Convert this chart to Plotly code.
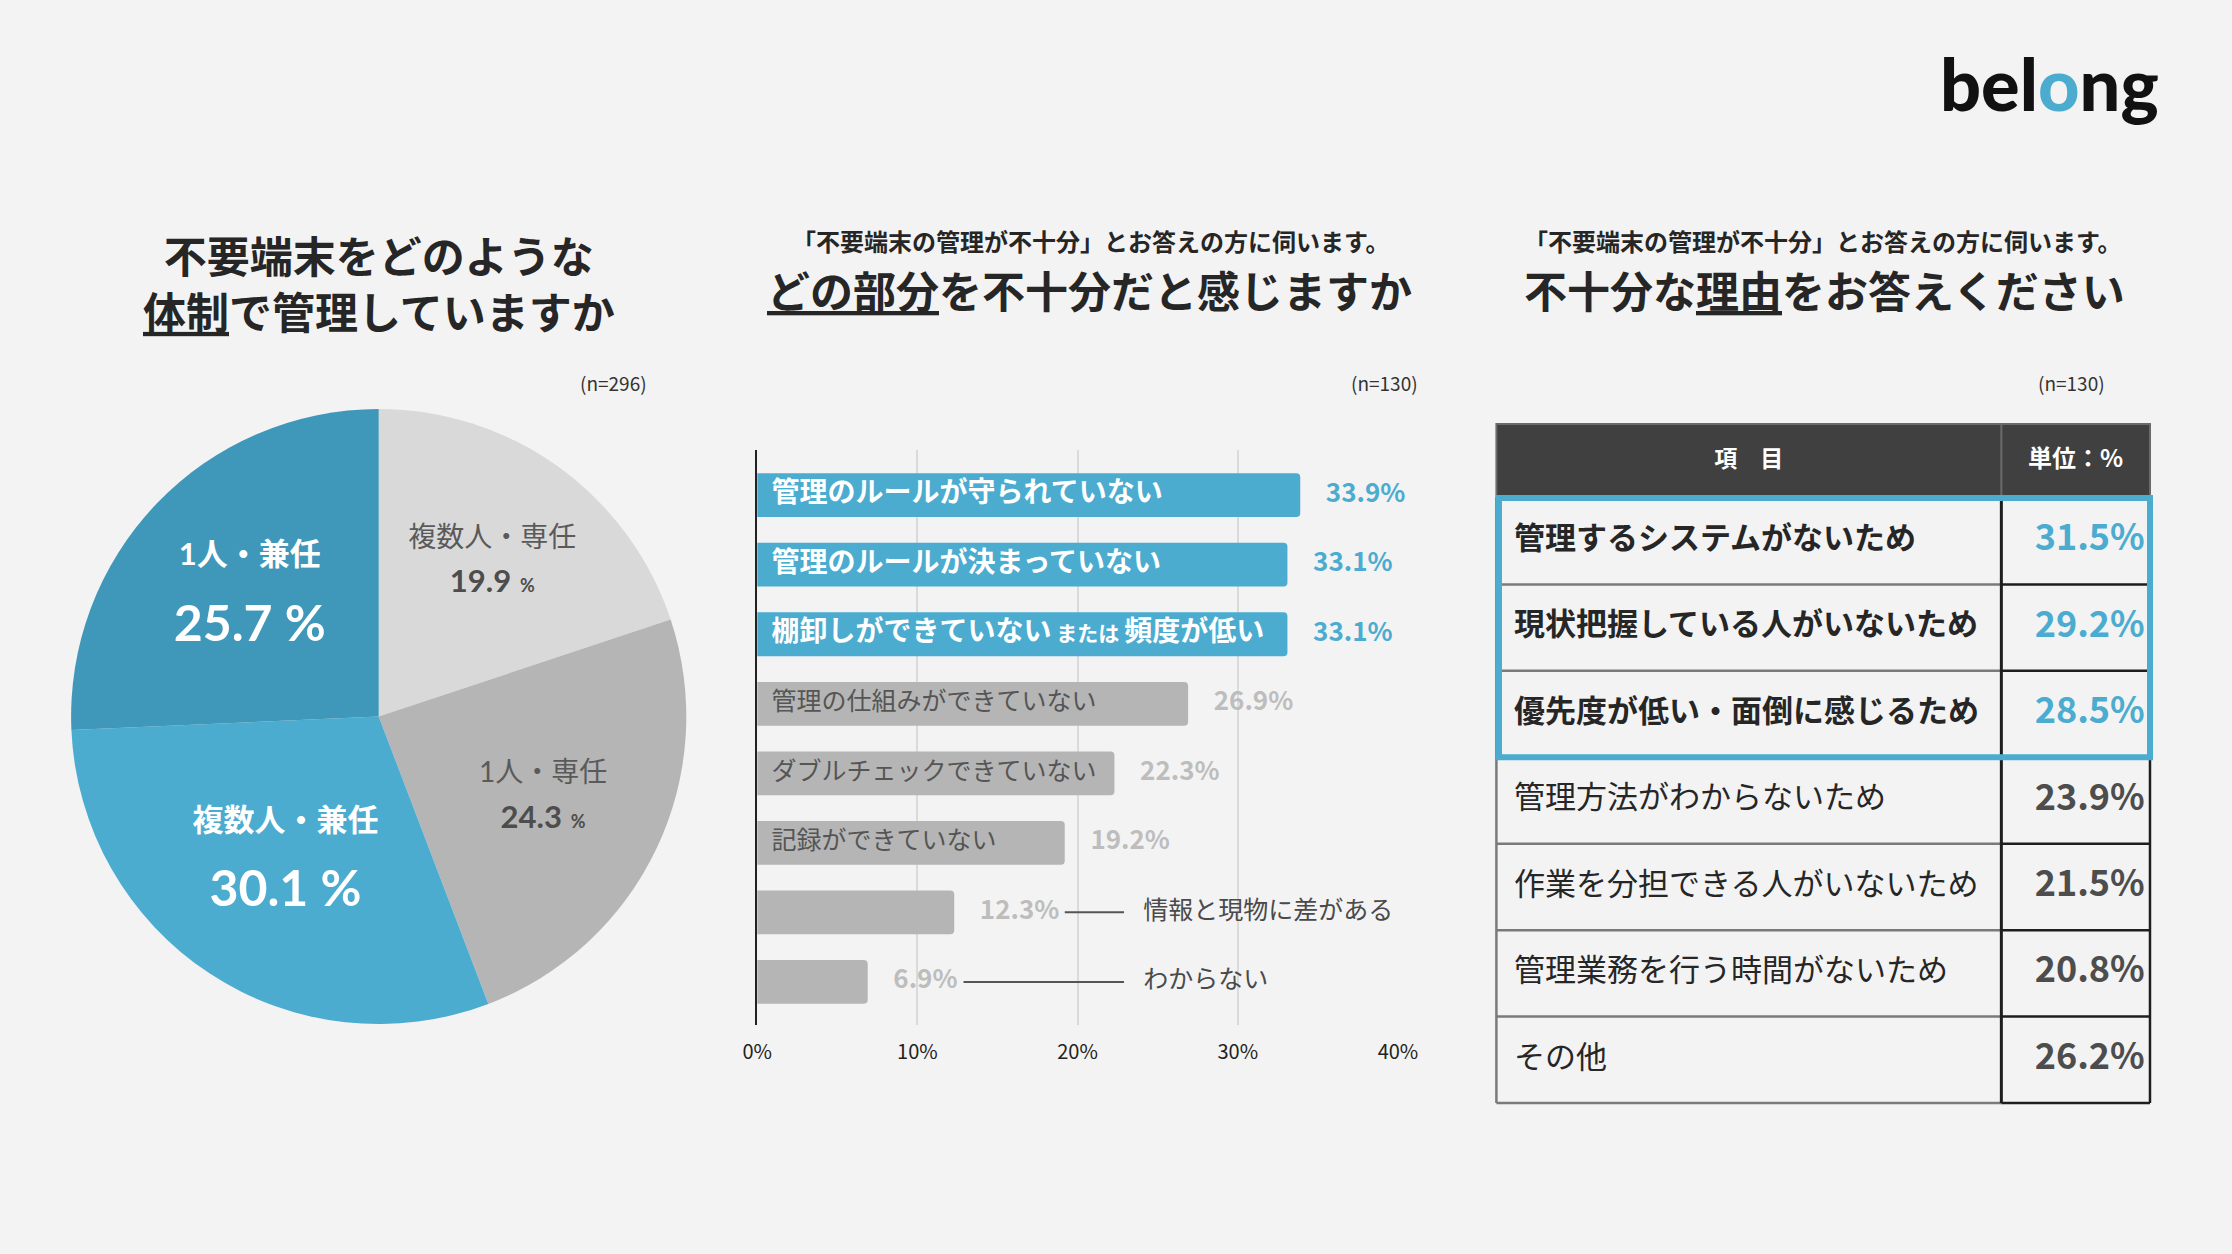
import plotly.graph_objects as go

W, H = 2232, 1254
BG = "#F3F3F3"
BLUE = "#4BACD0"
DARK_BLUE = "#3F97BA"
LIGHT_GRAY = "#D9D9D9"
MID_GRAY = "#B5B5B5"
TEXT = "#262626"
JP = "Noto Sans CJK JP"
LATO = "Lato, Noto Sans CJK JP"

# ---------------- data ----------------
pie_labels = ["複数人・専任", "1人・専任", "複数人・兼任", "1人・兼任"]
pie_values = [19.9, 24.3, 30.1, 25.7]
pie_colors = [LIGHT_GRAY, MID_GRAY, BLUE, DARK_BLUE]
pie_emphasis = [False, False, True, True]

bar_labels = [
    "管理のルールが守られていない",
    "管理のルールが決まっていない",
    "棚卸しができていない または 頻度が低い",
    "管理の仕組みができていない",
    "ダブルチェックできていない",
    "記録ができていない",
    "情報と現物に差がある",
    "わからない",
]
bar_values = [33.9, 33.1, 33.1, 26.9, 22.3, 19.2, 12.3, 6.9]
bar_highlight = [True, True, True, False, False, False, False, False]
bar_callout = [False, False, False, False, False, False, True, True]
x_ticks = [0, 10, 20, 30, 40]

table_header = ["項　目", "単位：%"]
table_items = [
    "管理するシステムがないため",
    "現状把握している人がいないため",
    "優先度が低い・面倒に感じるため",
    "管理方法がわからないため",
    "作業を分担できる人がいないため",
    "管理業務を行う時間がないため",
    "その他",
]
table_values = [31.5, 29.2, 28.5, 23.9, 21.5, 20.8, 26.2]
table_highlight = [True, True, True, False, False, False, False]


def px(x):
    return x / W


def py(y):
    return 1 - y / H


fig = go.Figure()

# ---------------- pie ----------------
pie_text, pie_sizes, pie_fcolors = [], [], []
for lab, v, emph in zip(pie_labels, pie_values, pie_emphasis):
    if emph:
        pie_text.append(
            f"<b><span style='font-size:31px'>{lab}</span><br>"
            f"<span style='font-size:50px'>{v:.1f} %</span></b>"
        )
        pie_sizes.append(58)
        pie_fcolors.append("white")
    else:
        pie_text.append(
            f"<span style='font-size:28px'>{lab}</span><br>"
            f"<b><span style='font-size:31px;color:#4D4D4D'>{v:.1f}</span>"
            f"<span style='font-size:18px;color:#4D4D4D'>  %</span></b>"
        )
        pie_sizes.append(35)
        pie_fcolors.append("#5A5A5A")

fig.add_trace(go.Pie(
    labels=pie_labels, values=pie_values, text=pie_text, textinfo="text",
    textposition="inside", insidetextorientation="horizontal",
    sort=False, direction="clockwise", rotation=0,
    marker=dict(colors=pie_colors, line=dict(width=0)),
    insidetextfont=dict(family=LATO, size=pie_sizes, color=pie_fcolors),
    domain=dict(x=[px(57), px(682)], y=[py(1029), py(404)]),
    showlegend=False, hoverinfo="skip",
))

# ---------------- bars ----------------
bar_colors = [BLUE if h else MID_GRAY for h in bar_highlight]
fig.add_trace(go.Bar(
    y=bar_labels, x=bar_values, orientation="h", width=0.63,
    marker=dict(color=bar_colors, line=dict(width=0), cornerradius=4),
    xaxis="x", yaxis="y", showlegend=False, hoverinfo="skip",
))

LABEL_PAD = 0.9
in_y, in_text, in_size, in_color = [], [], [], []
for lab, hl, co in zip(bar_labels, bar_highlight, bar_callout):
    if co:
        continue
    t = lab.replace(" または ", "<span style='font-size:21px'> または </span>")
    in_y.append(lab)
    in_text.append(f"<b>{t}</b>" if hl else t)
    in_size.append(28 if hl else 25)
    in_color.append("white" if hl else "#555555")
fig.add_trace(go.Scatter(
    x=[LABEL_PAD] * len(in_y), y=in_y, text=in_text, mode="text",
    textposition="middle right",
    textfont=dict(family=JP, size=in_size, color=in_color),
    xaxis="x", yaxis="y", showlegend=False, hoverinfo="skip", cliponaxis=False,
))

VALUE_GAP = 1.6
fig.add_trace(go.Scatter(
    x=[v + VALUE_GAP for v in bar_values], y=bar_labels,
    text=[f"<b>{v:.1f}%</b>" for v in bar_values], mode="text",
    textposition="middle right",
    textfont=dict(family=JP, size=26,
                  color=[BLUE if h else "#BDBDBD" for h in bar_highlight]),
    xaxis="x", yaxis="y", showlegend=False, hoverinfo="skip", cliponaxis=False,
))

CALLOUT_LINE_END = 22.9
CALLOUT_TEXT_X = 24.1
lx, ly, cy = [], [], []
for lab, v, co in zip(bar_labels, bar_values, bar_callout):
    if not co:
        continue
    start = v + VALUE_GAP + 0.92 * len(f"{v:.1f}%") + 0.7
    lx += [start, CALLOUT_LINE_END, None]
    ly += [lab, lab, None]
    cy.append(lab)
fig.add_trace(go.Scatter(
    x=lx, y=ly, mode="lines", line=dict(color="#555555", width=2),
    xaxis="x", yaxis="y", showlegend=False, hoverinfo="skip", cliponaxis=False,
))
fig.add_trace(go.Scatter(
    x=[CALLOUT_TEXT_X] * len(cy), y=cy, text=cy, mode="text",
    textposition="middle right",
    textfont=dict(family=JP, size=25, color="#4A4A4A"),
    xaxis="x", yaxis="y", showlegend=False, hoverinfo="skip", cliponaxis=False,
))

# ---------------- table ----------------
T_LEFT, T_RIGHT, T_TOP, T_BOTTOM = 1505, 2169, 424, 1103
HEADER_PX = 74
DIV = (2018 - T_LEFT) / (T_RIGHT - T_LEFT)
n_rows = len(table_items)
row_px = (T_BOTTOM - T_TOP - HEADER_PX) / n_rows
hdr = HEADER_PX / row_px
PAD = 10
tw = T_RIGHT - T_LEFT

fig.add_trace(go.Scatter(
    x=[DIV / 2, (DIV + 1) / 2], y=[-hdr / 2, -hdr / 2],
    text=[f"<b>{t}</b>" for t in table_header], mode="text",
    textposition="middle center",
    textfont=dict(family=JP, size=[23, 24], color="white"),
    xaxis="x3", yaxis="y3", showlegend=False, hoverinfo="skip", cliponaxis=False,
))
fig.add_trace(go.Scatter(
    x=[0.027] * n_rows, y=[i + 0.5 for i in range(n_rows)],
    text=[f"<b>{t}</b>" if h else t for t, h in zip(table_items, table_highlight)],
    mode="text", textposition="middle right",
    textfont=dict(family=JP, size=31, color=TEXT),
    xaxis="x3", yaxis="y3", showlegend=False, hoverinfo="skip", cliponaxis=False,
))
fig.add_trace(go.Scatter(
    x=[0.992] * n_rows, y=[i + 0.5 for i in range(n_rows)],
    text=[f"<b>{v:.1f}%</b>" for v in table_values],
    mode="text", textposition="middle left",
    textfont=dict(family=JP, size=36,
                  color=[BLUE if h else "#4D4D4D" for h in table_highlight]),
    xaxis="x3", yaxis="y3", showlegend=False, hoverinfo="skip", cliponaxis=False,
))

shapes = []
# header
shapes.append(dict(type="rect", xref="x3", yref="y3", x0=0, x1=1, y0=-hdr, y1=0,
                   fillcolor="#404040", line=dict(color="#6A6A6A", width=2), layer="below"))
shapes.append(dict(type="line", xref="x3", yref="y3", x0=DIV, x1=DIV, y0=-hdr, y1=0,
                   line=dict(color="#6A6A6A", width=2)))
# row lines
for i in range(n_rows):
    shapes.append(dict(type="line", xref="x3", yref="y3", x0=0, x1=DIV, y0=i + 1, y1=i + 1,
                       line=dict(color="#7A7A7A", width=2.5)))
    shapes.append(dict(type="line", xref="x3", yref="y3", x0=DIV, x1=1, y0=i + 1, y1=i + 1,
                       line=dict(color="#1E1E1E", width=2.5)))
shapes.append(dict(type="line", xref="x3", yref="y3", x0=0, x1=0, y0=0, y1=n_rows,
                   line=dict(color="#7A7A7A", width=2.5)))
shapes.append(dict(type="line", xref="x3", yref="y3", x0=DIV, x1=DIV, y0=0, y1=n_rows,
                   line=dict(color="#1E1E1E", width=3)))
shapes.append(dict(type="line", xref="x3", yref="y3", x0=1, x1=1, y0=0, y1=n_rows,
                   line=dict(color="#1E1E1E", width=2.5)))
# highlight frame
n_hl = sum(table_highlight)
shapes.append(dict(type="rect", xref="x3", yref="y3", x0=0.004, x1=1.0, y0=0.0, y1=n_hl,
                   line=dict(color=BLUE, width=6), fillcolor="rgba(0,0,0,0)"))

# ---------------- annotations ----------------
ann = []


def add_text(text, x, y, size, color=TEXT, xanchor="center", family=JP, weight=None):
    f = dict(family=family, size=size, color=color)
    if weight:
        f["weight"] = weight
    ann.append(dict(text=text, x=px(x), y=py(y), xref="paper", yref="paper",
                    xanchor=xanchor, yanchor="middle", showarrow=False, align="center",
                    borderpad=0, font=f))


add_text("<b>不要端末をどのような<br><u>体制</u>で管理していますか</b>", 370, 282, 43)
add_text("<b>「不要端末の管理が不十分」とお答えの方に伺います。</b>", 1093, 240, 24)
add_text("<b><u>どの部分</u>を不十分だと感じますか</b>", 1092, 289, 43)
add_text("<b>「不要端末の管理が不十分」とお答えの方に伺います。</b>", 1837, 240, 24)
add_text("<b>不十分な<u>理由</u>をお答えください</b>", 1838, 289, 43)
add_text("(n=296)", 643, 382, 19, color="#333333", xanchor="right")
add_text("(n=130)", 1426, 382, 19, color="#333333", xanchor="right")
add_text("(n=130)", 2124, 382, 19, color="#333333", xanchor="right")
add_text(f"bel<span style='color:{BLUE}'>o</span>ng", 2179, 83, 72,
         color="#111111", xanchor="right", family="Lato", weight=900)

fig.update_layout(
    width=W, height=H, margin=dict(l=0, r=0, t=0, b=0),
    paper_bgcolor=BG, plot_bgcolor="rgba(0,0,0,0)",
    showlegend=False,
    xaxis=dict(domain=[px(754), px(1405)], range=[0, 40], tickvals=x_ticks,
               ticktext=[f"{t}%" for t in x_ticks], showgrid=True,
               gridcolor="#DADADA", gridwidth=2, zeroline=False, showline=False,
               ticks="outside", ticklen=9, tickcolor="rgba(0,0,0,0)",
               tickfont=dict(family=JP, size=20, color="#222222"),
               anchor="y", fixedrange=True),
    yaxis=dict(domain=[py(1025), py(450)], range=[7.62, -0.65], type="category",
               categoryorder="array", categoryarray=bar_labels,
               showticklabels=False, showgrid=False, zeroline=False,
               showline=True, linecolor="#222222", linewidth=2,
               anchor="x", fixedrange=True),
    xaxis3=dict(domain=[px(T_LEFT - PAD), px(T_RIGHT + PAD)],
                range=[-PAD / tw, 1 + PAD / tw], visible=False, anchor="y3",
                fixedrange=True),
    yaxis3=dict(domain=[py(T_BOTTOM + PAD), py(T_TOP - PAD)],
                range=[n_rows + PAD / row_px, -hdr - PAD / row_px], visible=False,
                anchor="x3", fixedrange=True),
    shapes=shapes,
    annotations=ann,
)

fig.write_html(
    "out.html",
    config={"displayModeBar": False},
    post_script="document.body.style.margin='0';document.body.style.overflow='hidden';"
                f"document.body.style.background='{BG}';",
)
